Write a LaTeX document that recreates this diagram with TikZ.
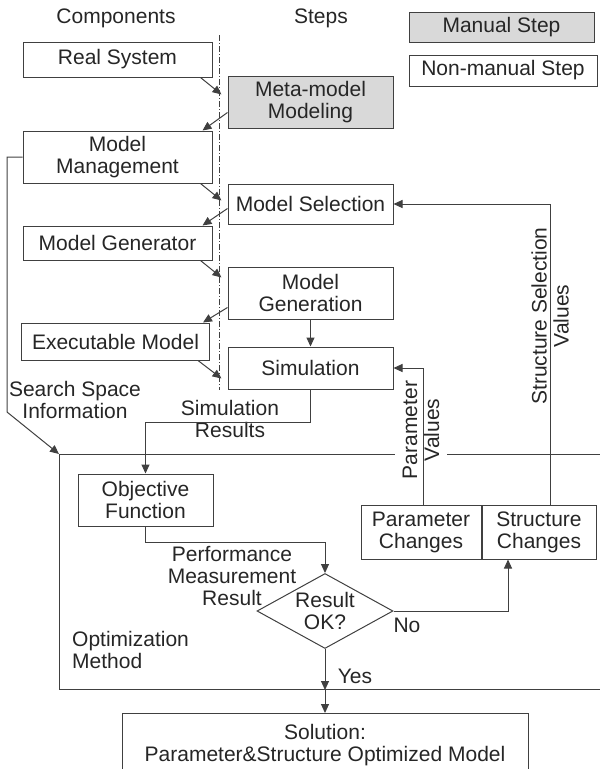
\documentclass[tikz,border=0pt]{standalone}
\usepackage{fontspec}
\setsansfont{Liberation Sans}
\usetikzlibrary{arrows.meta,positioning,shapes.geometric,calc}
\definecolor{ink}{HTML}{262626}
\definecolor{edge}{HTML}{404040}
\definecolor{shade}{HTML}{D9D9D9}
\newcommand{\figfont}{\fontsize{21}{22}\selectfont}
\tikzset{
  base/.style={font=\sffamily\figfont,align=center,draw=edge,line width=1pt,fill=white,inner sep=0pt,text=ink},
  comp/.style={base,minimum width=189pt},
  stepbox/.style={base,minimum width=165pt},
  manual/.style={stepbox,fill=shade},
  changes/.style={base,minimum height=54pt},
  decision/.style={diamond,draw=edge,line width=1pt,fill=white,minimum width=136pt,minimum height=75pt,inner sep=0pt},
  tag/.style={font=\sffamily\figfont,align=center,text=ink,inner sep=0pt},
  flow/.style={-{Triangle[length=9pt,width=8pt]},line width=1pt,draw=edge},
  divider/.style={line width=0.8pt,draw=edge,dash pattern=on 6pt off 2pt on 1pt off 2pt}
}

\begin{document}
\begin{tikzpicture}[x=1pt,y=1pt]
\useasboundingbox (0,0) rectangle (600,-769);
\node[tag] (hcomp) at (116,-18) {Components};
\node[tag] (hsteps) at (321,-18) {Steps};
\node[manual,minimum width=185pt,minimum height=30pt] (legman) at (501.5,-27) {Manual Step};
\node[base,minimum width=188pt,minimum height=31pt,below=12pt of legman.south west,anchor=north west] (legauto) {Non-manual Step};

\node[comp,minimum height=35pt] (real) at (117.5,-59.5) {Real System};
\node[comp,minimum height=52pt,below=53pt of real] (mgmt) {Model\\Management};
\node[comp,minimum height=34pt,below=42pt of mgmt] (gen) {Model Generator};
\node[comp,minimum width=188pt,minimum height=37pt,below=62pt of gen,xshift=-2pt] (exe) {Executable Model};

\node[manual,minimum height=52pt] (meta) at (310.5,-102) {Meta-model\\Modeling};
\node[stepbox,minimum height=40pt,below=55pt of meta] (sel) {Model Selection};
\node[stepbox,minimum height=52pt,below=42pt of sel] (mgen) {Model\\Generation};
\node[stepbox,minimum height=42pt,below=27pt of mgen] (sim) {Simulation};

\draw[divider] (219,-35) -- (219,-390);

\node[base,fill=none,minimum width=561pt,minimum height=235pt,anchor=north west] (opt) at (59,-454) {};
\node[base,minimum width=135pt,minimum height=52pt] (obj) at (145.5,-500) {Objective\\Function};
\node[decision] (ok) at (325,-611) {};
\node[tag] (oktext) at (ok) {Result\\OK?};
\node[changes,minimum width=120pt] (param) at (421,-532) {Parameter\\Changes};
\node[changes,minimum width=114pt,right=0pt of param] (struct) {Structure\\Changes};
\node[base,minimum width=406pt,minimum height=64pt,anchor=north] (sol) at (325,-713) {Solution:\\Parameter\&Structure Optimized Model};

\node[tag] (searchlbl) at (75,-400) {Search Space\\Information};
\node[tag] (simlbl) at (230,-419) {Simulation\\Results};
\node[tag,fill=white,inner sep=8pt,rotate=90] (paramlbl) at (421,-430) {Parameter\\Values};
\node[tag,rotate=90] (structlbl) at (550,-316) {Structure Selection\\Values};
\node[tag] (perflbl) at (232,-576) {Performance\\Measurement\\Result};
\node[tag,align=left,anchor=west] (optlbl) at (72,-650) {Optimization\\Method};
\node[tag] (nolbl) at (407,-625) {No};
\node[tag] (yeslbl) at (355,-676) {Yes};

\draw[flow] ($(real.south east)+(-12,0)$) -- ($(meta.west |- real.south)+(-6,-17)$);
\draw[flow] ($(meta.west |- mgmt.north)+(0,18)$) -- ($(mgmt.north east)+(-10,0)$);
\draw[flow] ($(mgmt.south east)+(-12,0)$) -- ($(sel.west |- mgmt.south)+(-6,-17)$);
\draw[flow] ($(sel.west |- gen.north)+(0,17)$) -- ($(gen.north east)+(-10,0)$);
\draw[flow] ($(gen.south east)+(-12,0)$) -- ($(mgen.west |- gen.south)+(-6,-17)$);
\draw[flow] ($(mgen.west |- exe.north)+(0,15)$) -- ($(exe.north east)+(-7,0)$);
\draw[flow] ($(exe.south east)+(-12,0)$) -- ($(sim.west |- exe.south)+(-6,-18)$);
\draw[flow] (mgen) -- (sim);
\draw[flow] (sim.south) -- ($(sim.south)+(0,-33)$) -| (obj.north);
\draw[flow] (obj.south) -- ($(obj.south)+(0,-16)$) -| (ok.north);
\draw[flow] (ok.east) -| ($(struct.south)+(-31,0)$);
\draw[flow] ($(param.north)+(2,0)$) |- (sim.east);
\draw[flow] ($(struct.north)+(11,0)$) |- (sel.east);
\draw[flow] (ok.south) -- (ok.south |- opt.south);
\draw[flow] (ok.south |- opt.south) -- (sol.north);
\draw[flow] (mgmt.west) -| ($(opt.north west)+(-52,42)$) -- (opt.north west);
\end{tikzpicture}
\end{document}
